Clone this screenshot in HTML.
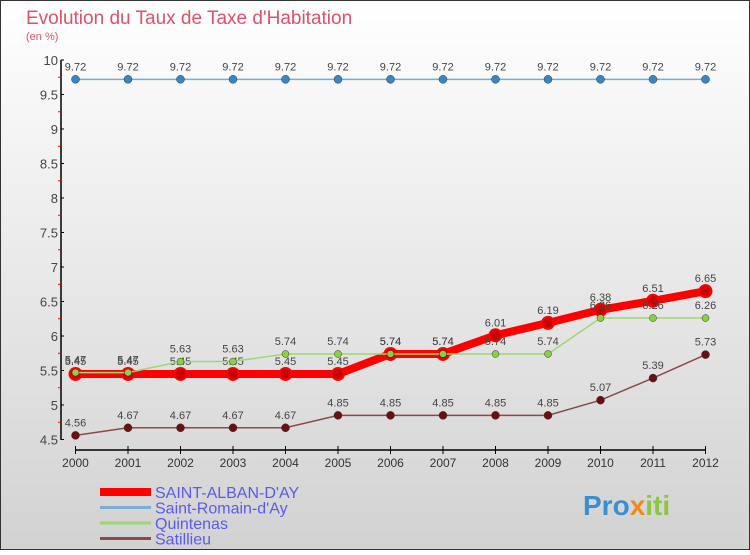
<!DOCTYPE html>
<html><head><meta charset="utf-8"><style>
body{margin:0}
svg text{font-family:"Liberation Sans",sans-serif}
</style></head><body>
<svg id="c" width="750" height="550" xmlns="http://www.w3.org/2000/svg">
<defs><linearGradient id="bg" x1="0" y1="0" x2="0" y2="1"><stop offset="0" stop-color="#ffffff"/><stop offset="1" stop-color="#d2d2d2"/></linearGradient></defs>
<rect x="0.5" y="0.5" width="749" height="549" fill="url(#bg)" stroke="#333"/>
<text x="26" y="24" font-size="19" fill="#e0506a">Evolution du Taux de Taxe d'Habitation</text>
<text x="26" y="40" font-size="11" fill="#e0506a">(en %)</text>
<g id="axes"></g><g id="series"></g><g id="legend"></g>
<text x="583" y="515" font-size="28" font-weight="bold" fill="#3a8fd0">Pro<tspan fill="#f08a1c">x</tspan><tspan fill="#8cc63f">iti</tspan></text>
</svg>
<script>
const years=[2000,2001,2002,2003,2004,2005,2006,2007,2008,2009,2010,2011,2012];
const yTicks=[4.5,5,5.5,6,6.5,7,7.5,8,8.5,9,9.5,10];
const saintAlban=[5.45,5.45,5.45,5.45,5.45,5.45,5.74,5.74,6.01,6.19,6.38,6.51,6.65];
const saintRomain=[9.72,9.72,9.72,9.72,9.72,9.72,9.72,9.72,9.72,9.72,9.72,9.72,9.72];
const quintenas=[5.47,5.47,5.63,5.63,5.74,5.74,5.74,5.74,5.74,5.74,6.26,6.26,6.26];
const satillieu=[4.56,4.67,4.67,4.67,4.67,4.85,4.85,4.85,4.85,4.85,5.07,5.39,5.73];
const NS='http://www.w3.org/2000/svg';
const X=i=>75.5+i*52.5, Y=v=>60+(10-v)*69;
function mk(t,a,p){const e=document.createElementNS(NS,t);for(const k in a)e.setAttribute(k,a[k]);p.appendChild(e);return e;}
const ax=document.getElementById('axes');
const yAxis=mk('line',{x1:61,y1:60,x2:61,y2:440,stroke:'#000','stroke-width':1.5},ax);


yTicks.forEach(v=>{
 mk('line',{x1:61,y1:Y(v),x2:64,y2:Y(v),stroke:'#000'},ax);
 if(v<10) mk('line',{x1:58,y1:Y(v+0.25),x2:61,y2:Y(v+0.25),stroke:'#f00'},ax);
 const t=mk('text',{x:58,y:Y(v)+5,'font-size':13,fill:'#444','text-anchor':'end'},ax);t.textContent=String(v);
 
 
});
const xAxis=mk('line',{x1:75.5,y1:450,x2:705.5,y2:450,stroke:'#000','stroke-width':1.5},ax);


years.forEach((y,i)=>{
 mk('line',{x1:X(i),y1:446,x2:X(i),y2:454,stroke:'#000'},ax);
 const t=mk('text',{x:X(i),y:467,'font-size':12,fill:'#333','text-anchor':'middle'},ax);t.textContent=y;
 
 
});
const sg=document.getElementById('series');
function series(d,name,col,w,r,dot){
 const g=mk('g',{},sg);
 
 
 mk('polyline',{points:d.map((v,i)=>X(i)+','+Y(v)).join(' '),fill:'none',stroke:col,'stroke-width':w},g);
 d.forEach((v,i)=>{
  const c=mk('circle',{cx:X(i),cy:Y(v),r:r,fill:dot,stroke:col==='#f00'?'#f00':'#333','stroke-width':col==='#f00'?2:0.5},g);
  
  
  const t=mk('text',{x:X(i),y:Y(v)-9,'font-size':11,fill:'#444','text-anchor':'middle'},g);t.textContent=String(v);
  
  
 });
}
series(saintRomain,'series-saint-romain','#7aaed0',1.5,4,'#3a86c4');
series(satillieu,'series-satillieu','#8a4a4a',1.5,4,'#6a1010');
series(saintAlban,'series-saint-alban','#f00',8,6,'#c00');
series(quintenas,'series-quintenas','#9cd870',1.5,3.5,'#8ad040');
const lg=document.getElementById('legend');
[['SAINT-ALBAN-D\'AY','#f00',8],['Saint-Romain-d\'Ay','#7aaed0',3],['Quintenas','#9cd870',3],['Satillieu','#8a4a4a',3]].forEach((e,i)=>{
 const y=492+i*15.5;
 const g=mk('g',{},lg);
 
 
 mk('line',{x1:100,y1:y,x2:151,y2:y,stroke:e[1],'stroke-width':e[2]},g);
 const t=mk('text',{x:155,y:y+6,'font-size':16,fill:'#5a5af0'},g);t.textContent=e[0];
});
</script>
</body></html>
